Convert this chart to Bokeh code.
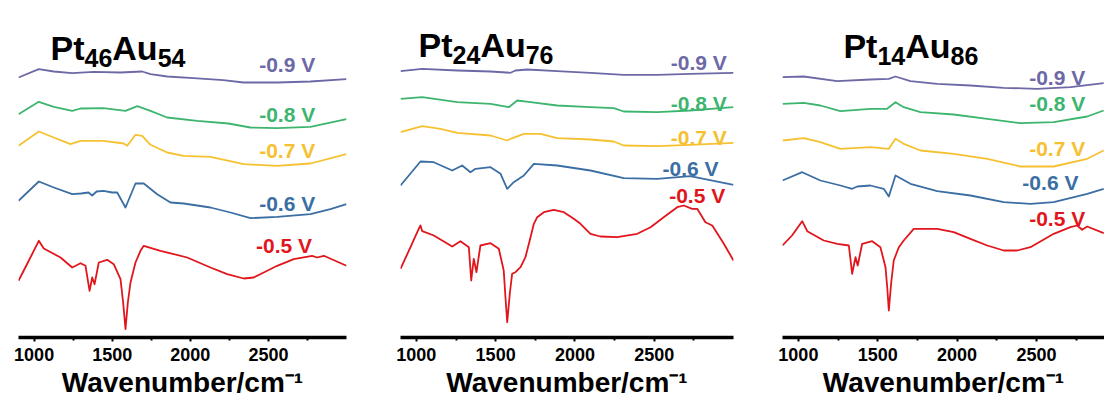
from bokeh.plotting import figure
from bokeh.layouts import row
from bokeh.models import Range1d, FixedTicker, Label, ColumnDataSource
from bokeh.core.properties import value
from bokeh.embed import file_html
from bokeh.resources import INLINE

FONT = "Liberation Sans"
voltages = ["-0.9 V", "-0.8 V", "-0.7 V", "-0.6 V", "-0.5 V"]
colors = ["#6d68a6", "#3db56e", "#f6c131", "#3b6ea3", "#e1161c"]
tick_values = [1000, 1500, 2000, 2500]
minor_tick_values = [1250, 1750, 2250, 2750]
x_label = "Wavenumber/cm\u207b\u00b9"

# ---------------- Panel A : Pt46Au54 ----------------
a_title = ["Pt", "46", "Au", "54"]
a_wn_09 = [900, 1030, 1126, 1244, 1382, 1553, 1692, 1745, 1852, 2020, 2212, 2340, 2558, 2769, 3000]
a_y_09 = [260, 268.3, 266, 264.3, 265.7, 265, 266, 263.3, 261, 259.3, 257.3, 255, 255, 256, 258.3]
a_wn_08 = [900, 1030, 1126, 1244, 1297, 1444, 1585, 1660, 1745, 1852, 2044, 2244, 2385, 2556, 2769, 3000]
a_y_08 = [223.3, 235.7, 230.7, 226.7, 229, 229.3, 226.7, 231.3, 226.7, 220, 216.7, 214, 210, 209.3, 210.7, 218.3]
a_wn_07 = [900, 1030, 1126, 1233, 1297, 1444, 1574, 1596, 1649, 1692, 1745, 1852, 1958, 2129, 2342, 2556, 2769, 3000]
a_y_07 = [191.7, 206, 200, 193.3, 196.7, 196.7, 194, 191.7, 202.7, 201.7, 192.7, 185, 181.7, 180.7, 173.3, 171.7, 174, 183.3]
a_wn_06 = [900, 1030, 1126, 1244, 1300, 1348, 1372, 1400, 1444, 1500, 1532, 1585, 1649, 1702, 1788, 1873, 1958, 2129, 2257, 2385, 2556, 2769, 2897, 3000]
a_y_06 = [136.7, 156, 150, 143.3, 144, 145, 142, 146, 146.7, 145, 145, 130, 154, 154, 143.3, 135, 134, 130, 125, 119.3, 120.7, 123.3, 128.3, 133.3]
a_wn_05 = [900, 960, 1030, 1062, 1169, 1244, 1297, 1329, 1355, 1372, 1387, 1414, 1468, 1510, 1553, 1570, 1585, 1600, 1617, 1649, 1681, 1702, 1809, 1980, 2129, 2236, 2342, 2406, 2470, 2556, 2662, 2780, 2812, 2855, 3000]
a_y_05 = [56.7, 75, 96.7, 89, 80, 70, 74.3, 71.7, 46.7, 60, 53.3, 75, 77.7, 73.3, 58.3, 35, 8.3, 35, 55, 75, 86.7, 91.7, 86.7, 80, 70, 63.3, 59, 60, 65, 71.7, 78.3, 81.7, 80, 81.7, 71.7]
a_lab_x = [2620, 2620, 2620, 2620, 2600]
a_lab_y = [273, 223, 187, 134, 92]

# ---------------- Panel B : Pt24Au76 ----------------
b_title = ["Pt", "24", "Au", "76"]
b_wn_09 = [900, 1037, 1258, 1468, 1594, 1625, 1699, 1888, 2098, 2308, 2519, 2727, 3000]
b_y_09 = [266.3, 268.7, 267, 266, 264.7, 267, 268, 266.3, 264.7, 262.7, 262.7, 263.7, 264.7]
b_wn_08 = [900, 1037, 1258, 1468, 1583, 1636, 1720, 1888, 2098, 2245, 2308, 2519, 2727, 3000]
b_y_08 = [238.7, 240.3, 235.3, 233.7, 230.3, 237, 235.3, 232, 230.3, 229.3, 226, 225.3, 227, 230.3]
b_wn_07 = [900, 1037, 1152, 1258, 1468, 1573, 1594, 1678, 1783, 1888, 2098, 2245, 2308, 2519, 2727, 3000]
b_y_07 = [205.3, 211.3, 208.7, 204.7, 202, 197, 198.7, 203.7, 203.7, 199.3, 198, 196, 192, 191.3, 192.7, 194.7]
b_wn_06 = [900, 1026, 1110, 1226, 1289, 1341, 1373, 1468, 1531, 1573, 1614, 1678, 1741, 1888, 2098, 2308, 2519, 2727, 3000]
b_y_06 = [152, 176, 175.3, 167, 172, 165.3, 168.7, 170.3, 163.7, 148.7, 155.3, 162, 173.7, 172, 167, 159.3, 158.7, 161.3, 152.7]
b_wn_05 = [900, 963, 1015, 1026, 1037, 1110, 1226, 1278, 1331, 1346, 1362, 1379, 1404, 1468, 1520, 1551, 1562, 1573, 1590, 1604, 1625, 1657, 1688, 1720, 1741, 1762, 1804, 1867, 1930, 1993, 2035, 2098, 2161, 2267, 2393, 2477, 2560, 2645, 2687, 2739, 2771, 2823, 2866, 2939, 3000]
b_y_05 = [68.7, 90.3, 108.7, 112, 106.3, 102, 91, 96.3, 90.3, 57, 78.7, 65.3, 92, 94.3, 88.7, 67, 40, 15.3, 45, 63.7, 65.3, 70.3, 80.3, 100.3, 113.7, 120.3, 125.3, 127.7, 125.3, 118.7, 113.7, 103.7, 101, 100.3, 103.7, 110.3, 120.3, 130.3, 132, 128.7, 128.7, 115.3, 112, 93.7, 77]
b_lab_x = [2781, 2781, 2781, 2729, 2771]
b_lab_y = [275.3, 233.7, 200.3, 168.7, 142]

# ---------------- Panel C : Pt14Au86 ----------------
c_title = ["Pt", "14", "Au", "86"]
c_wn_09 = [900, 1034, 1245, 1454, 1570, 1612, 1706, 1875, 2084, 2294, 2505, 2714, 2924]
c_y_09 = [260.3, 261, 256.3, 258, 258.7, 261, 256.3, 253.7, 252, 249.7, 248.7, 250.3, 254.3]
c_wn_08 = [900, 1034, 1139, 1265, 1454, 1559, 1612, 1664, 1769, 1979, 2190, 2399, 2609, 2820, 2924]
c_y_08 = [233.7, 234.7, 232, 226.3, 228.7, 228.7, 235.3, 230.3, 225.3, 223, 218.7, 214.3, 215.3, 221, 227]
c_wn_07 = [900, 1034, 1139, 1265, 1454, 1570, 1612, 1664, 1769, 1979, 2190, 2399, 2609, 2820, 2924]
c_y_07 = [197, 199.3, 195.3, 188.7, 190.3, 188.7, 198.7, 193.7, 187, 183.7, 178.7, 171, 171, 178.7, 187]
c_wn_06 = [900, 1024, 1139, 1265, 1339, 1371, 1454, 1538, 1570, 1612, 1706, 1875, 2084, 2294, 2462, 2609, 2820, 2924]
c_y_06 = [157, 165.3, 157, 152, 148.7, 151, 152, 148.7, 141, 162, 153.7, 146.3, 142, 135.3, 133.7, 135.3, 143.7, 148.7]
c_wn_05 = [900, 960, 1024, 1056, 1160, 1245, 1318, 1339, 1360, 1374, 1402, 1465, 1517, 1549, 1560, 1570, 1585, 1601, 1633, 1664, 1727, 1875, 1979, 2084, 2190, 2294, 2379, 2462, 2609, 2714, 2757, 2788, 2820, 2924]
c_y_05 = [92, 102, 116.3, 106.3, 97, 93.7, 92, 63.7, 80.3, 72, 93.7, 96.3, 90.3, 70.3, 50, 27, 55, 77, 90.3, 97, 108.7, 108.7, 105.3, 98.7, 92, 87, 87, 90.3, 103.7, 110.3, 112, 107.7, 111, 104.3]
c_lab_x = [2631, 2631, 2631, 2588, 2631]
c_lab_y = [260.3, 233.7, 188.7, 155.3, 118.7]


def make_panel(width, left, right, x_end, wns, ys, lab_x, lab_y, title, title_x, title_y):
    p = figure(width=width, height=402, x_range=Range1d(900, x_end), y_range=Range1d(0, 337),
               output_backend="svg", toolbar_location=None, y_axis_location=None,
               min_border_left=left, min_border_right=right, min_border_top=0, min_border_bottom=65)
    p.outline_line_color = None
    p.xgrid.visible = False
    p.ygrid.visible = False
    p.background_fill_color = "white"
    p.border_fill_color = "white"

    for wn, y, c in zip(wns, ys, colors):
        p.line(wn, y, line_color=c, line_width=1.8, line_join="round")

    src = ColumnDataSource(dict(x=lab_x, y=lab_y, t=voltages, c=colors))
    p.text(x="x", y="y", text="t", text_color="c", source=src, text_font=value(FONT),
           text_font_size="21px", text_font_style="bold", text_align="center", text_baseline="middle")

    # title with subscripts
    main_size, sub_size = 34, 25
    w_pt = (0.667 + 0.333) * main_size
    w_sub = 2 * 0.556 * sub_size
    w_au = (0.722 + 0.611) * main_size
    offs = [0, w_pt, w_pt + w_sub, w_pt + w_sub + w_au]
    for i, (txt, off) in enumerate(zip(title, offs)):
        is_sub = i % 2 == 1
        p.add_layout(Label(x=title_x, y=title_y - (10 if is_sub else 0), x_offset=off, text=txt,
                           text_font=FONT, text_font_size=f"{sub_size if is_sub else main_size}px",
                           text_font_style="bold", text_color="black", text_baseline="alphabetic",
                           text_align="left"))

    ax = p.xaxis[0]
    ax.ticker = FixedTicker(ticks=tick_values, minor_ticks=minor_tick_values)
    ax.axis_line_width = 3.5
    ax.axis_line_color = "black"
    ax.major_tick_line_width = 2
    ax.major_tick_in = 0
    ax.major_tick_out = 4
    ax.minor_tick_line_width = 2
    ax.minor_tick_in = 0
    ax.minor_tick_out = 3
    ax.major_label_standoff = 6
    ax.major_label_text_font = FONT
    ax.major_label_text_font_size = "18px"
    ax.major_label_text_font_style = "bold"
    ax.major_label_text_color = "black"
    ax.axis_label = x_label
    ax.axis_label_standoff = 3
    ax.axis_label_text_font = FONT
    ax.axis_label_text_font_size = "28px"
    ax.axis_label_text_font_style = "bold"
    ax.axis_label_text_color = "black"
    return p


p1 = make_panel(370, 18, 24, 3000,
                [a_wn_09, a_wn_08, a_wn_07, a_wn_06, a_wn_05],
                [a_y_09, a_y_08, a_y_07, a_y_06, a_y_05],
                a_lab_x, a_lab_y, a_title, 1105, 290)
p2 = make_panel(380, 30, 17, 3000,
                [b_wn_09, b_wn_08, b_wn_07, b_wn_06, b_wn_05],
                [b_y_09, b_y_08, b_y_07, b_y_06, b_y_05],
                b_lab_x, b_lab_y, b_title, 1014, 293)
p3 = make_panel(354, 32, 0, 2929,
                [c_wn_09, c_wn_08, c_wn_07, c_wn_06, c_wn_05],
                [c_y_09, c_y_08, c_y_07, c_y_06, c_y_05],
                c_lab_x, c_lab_y, c_title, 1284, 292)

layout = row(p1, p2, p3)
open("out.html", "w").write(file_html(layout, INLINE))
